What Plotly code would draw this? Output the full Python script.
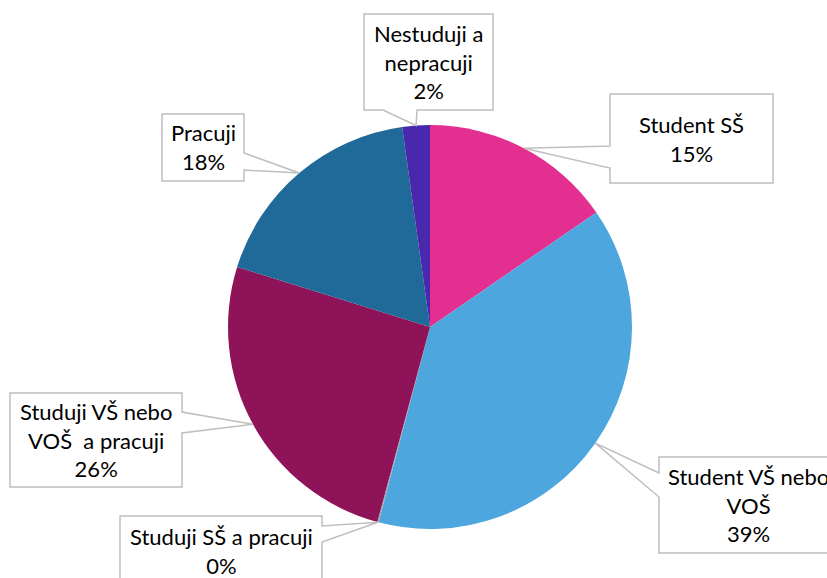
import math
import plotly.graph_objects as go

# Survey shares by activity status (percent)
categories = [
    "Student SŠ",
    "Student VŠ nebo VOŠ",
    "Studuji SŠ a pracuji",
    "Studuji VŠ nebo VOŠ a pracuji",
    "Pracuji",
    "Nestuduji a nepracuji",
]
values = [15.4, 38.7, 0.1, 25.6, 18.0, 2.2]
label_lines = [
    "Student SŠ",
    "Student VŠ nebo<br>VOŠ",
    "Studuji SŠ a pracuji",
    "Studuji VŠ nebo<br>VOŠ\u00a0\u00a0a pracuji",
    "Pracuji",
    "Nestuduji a<br>nepracuji",
]
colors = ["#E32F90", "#4DA6DD", "#A5A5A5", "#8E1358", "#1F6A98", "#4A28AE"]

W, H = 827, 578
CX, CY, R = 430, 327, 202  # pie centre and radius in pixels

fig = go.Figure(
    go.Pie(
        labels=categories,
        values=values,
        sort=False,
        direction="clockwise",
        rotation=0,
        textinfo="none",
        hoverinfo="label+percent",
        marker=dict(colors=colors, line=dict(color="white", width=0)),
        domain=dict(
            x=[(CX - R) / W, (CX + R) / W],
            y=[(H - CY - R) / H, (H - CY + R) / H],
        ),
        showlegend=False,
    )
)

# Callout boxes: (x0, y0, x1, y1) in pixels, side the pointer leaves from,
# and the two points on that side where the pointer starts.
callouts = [
    ((610, 94, 773, 183), "left", (146, 168)),
    ((659, 457, 838, 553), "left", (473, 497)),
    ((120, 516, 322, 590), "right", (526, 542)),
    ((10, 393, 182, 487), "right", (412, 433)),
    ((162, 114, 244, 181), "right", (153, 170)),
    ((364, 14, 493, 110), "bottom", (383, 417)),
]


def px(x, y):
    return x / W, 1 - y / H


total = sum(values)
cum = 0.0
shapes, annotations = [], []
for i, v in enumerate(values):
    mid = (cum + v / 2) / total * 2 * math.pi
    cum += v
    tip = (CX + R * math.sin(mid), CY - R * math.cos(mid))
    (x0, y0, x1, y1), side, (b1, b2) = callouts[i]
    if side == "left":
        pts = [(x0, y0), (x1, y0), (x1, y1), (x0, y1), (x0, b2), tip, (x0, b1)]
    elif side == "right":
        pts = [(x0, y0), (x1, y0), (x1, b1), tip, (x1, b2), (x1, y1), (x0, y1)]
    else:  # bottom
        pts = [(x0, y0), (x1, y0), (x1, y1), (b2, y1), tip, (b1, y1), (x0, y1)]
    path = "M " + " L ".join("%.5f,%.5f" % px(*p) for p in pts) + " Z"
    shapes.append(
        dict(
            type="path",
            path=path,
            xref="paper",
            yref="paper",
            line=dict(color="#BFBFBF", width=1.5),
            fillcolor="white",
            layer="above",
        )
    )
    pct = round(v / total * 100)
    tx, ty = px((x0 + x1) / 2, (y0 + y1) / 2)
    if i == 2:
        ty = px(0, 551)[1]
    annotations.append(
        dict(
            x=tx,
            y=ty,
            xref="paper",
            yref="paper",
            xanchor="center",
            yanchor="middle",
            text=f"{label_lines[i]}<br>{pct}%",
            showarrow=False,
            align="center",
            font=dict(family="Lato, 'Open Sans', sans-serif", size=22, color="#000000"),
        )
    )

fig.update_layout(
    width=W,
    height=H,
    margin=dict(l=0, r=0, t=0, b=0),
    paper_bgcolor="white",
    plot_bgcolor="white",
    shapes=shapes,
    annotations=annotations,
)

fig.write_html("out.html")
